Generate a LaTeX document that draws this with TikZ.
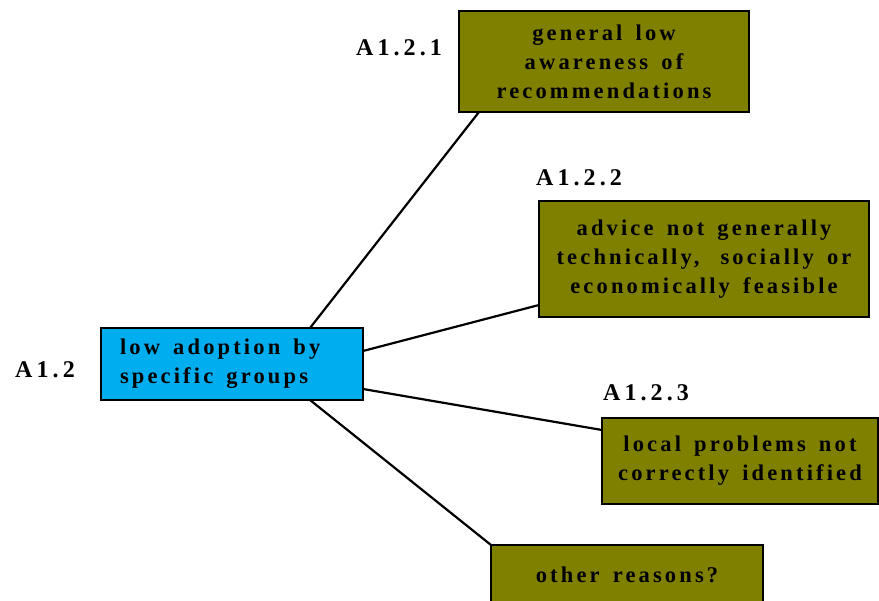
\documentclass[tikz,border=0pt]{standalone}
\usepackage{fontspec}
\newfontfamily\boxfont[LetterSpace=14,WordSpace=1.5]{Liberation Serif}
\newfontfamily\tagfont[LetterSpace=17]{Liberation Serif}
\definecolor{causeblue}{RGB}{0,174,239}
\definecolor{causeolive}{RGB}{128,128,0}
\tikzset{
  treebox/.style={draw=black, line width=2.2pt, inner sep=0pt, outer sep=0pt,
    font=\boxfont\bfseries\fontsize{22.5}{29}\selectfont, text=black},
  rootbox/.style={treebox, fill=causeblue, align=flush left, inner xsep=19pt,
    text width=224pt},
  leafbox/.style={treebox, fill=causeolive, align=center},
  tag/.style={font=\tagfont\bfseries\fontsize{24}{28}\selectfont, inner sep=0pt},
  link/.style={draw=black, line width=2.2pt}
}
\begin{document}
\begin{tikzpicture}[x=1pt, y=-1pt]
\useasboundingbox (0,0) rectangle (879,601);
\clip (0,0) rectangle (879,601);
% root cause
\node[rootbox, minimum height=72pt] (root) at (232,364)
  {low adoption by\\specific groups};
% branches
\node[leafbox, minimum width=290pt, minimum height=101pt] (b1) at (604,61.5)
  {general low\\awareness of\\recommendations};
\node[leafbox, minimum width=330pt, minimum height=116pt] (b2) at (704,259)
  {advice not generally\\technically,\hspace{8pt} socially or\\economically feasible};
\node[leafbox, minimum width=276pt, minimum height=86pt] (b3) at (740,461)
  {local problems not\\correctly identified};
\node[leafbox, minimum width=272pt, minimum height=60pt] (b4) at (627,575)
  {other reasons?};
% labels
\node[tag] (t0) at (45,370) {A1.2};
\node[tag] (t1) at (399,48) {A1.2.1};
\node[tag] (t2) at (579,178) {A1.2.2};
\node[tag] (t3) at (646,393) {A1.2.3};
% connectors
\draw[link] ([xshift=78pt]root.north) -- ([xshift=-125pt]b1.south);
\draw[link] ([yshift=13pt]root.east) -- ([yshift=-46pt]b2.west);
\draw[link] ([yshift=-25pt]root.east) -- ([yshift=31pt]b3.west);
\draw[link] ([xshift=78pt]root.south) -- (b4.north west);
\end{tikzpicture}
\end{document}
